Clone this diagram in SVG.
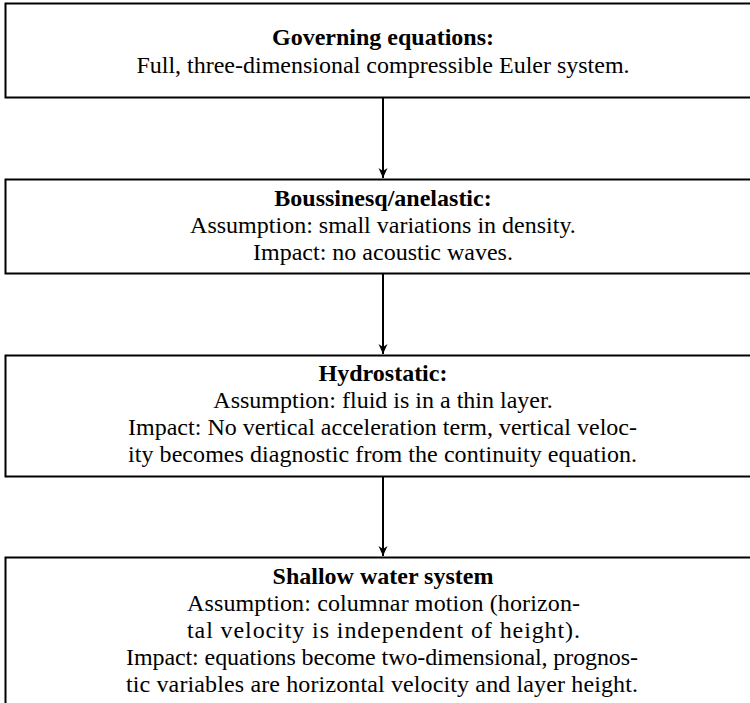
<svg xmlns="http://www.w3.org/2000/svg" width="750" height="703" viewBox="0 0 750 703">
<style>
.box{fill:#fff;stroke:#000;stroke-width:2}
text{font-family:"Liberation Serif","Times New Roman",serif;font-size:24px;fill:#000;text-anchor:middle}
.b{font-weight:bold}
.j{text-anchor:start}
.c{stroke:#000;stroke-width:2;fill:none}
</style>
<defs>
<marker id="ah" viewBox="0 0 10 10" refX="10" refY="5" markerWidth="6" markerHeight="5" orient="auto" markerUnits="strokeWidth">
<path d="M0,0.5 L10,5 L0,9.5 L3,5 Z" fill="#000"/>
</marker>
</defs>
<rect width="750" height="703" fill="#fff"/>
<g id="connectors">
<line class="c" x1="383" y1="98" x2="383" y2="178" marker-end="url(#ah)"/>
<line class="c" x1="383" y1="274" x2="383" y2="354" marker-end="url(#ah)"/>
<line class="c" x1="383" y1="477" x2="383" y2="556" marker-end="url(#ah)"/>
</g>
<g id="governing">
<rect class="box" x="5.5" y="3.5" width="756" height="94"/>
<text class="b" x="383" y="45">Governing equations:</text>
<text x="383" y="73">Full, three-dimensional compressible Euler system.</text>
</g>
<g id="boussinesq">
<rect class="box" x="5.5" y="179.5" width="756" height="94"/>
<text class="b" x="383" y="206">Boussinesq/anelastic:</text>
<text x="383" y="233">Assumption: small variations in density.</text>
<text x="383" y="260">Impact: no acoustic waves.</text>
</g>
<g id="hydrostatic">
<rect class="box" x="5.5" y="355.5" width="756" height="121"/>
<text class="b" x="383" y="381">Hydrostatic:</text>
<text x="383" y="408">Assumption: fluid is in a thin layer.</text>
<text class="j" x="128" y="435" textLength="509" lengthAdjust="spacing">Impact: No vertical acceleration term, vertical veloc-</text>
<text class="j" x="128" y="462" textLength="509" lengthAdjust="spacing">ity becomes diagnostic from the continuity equation.</text>
</g>
<g id="shallow">
<rect class="box" x="5.5" y="557.5" width="756" height="160"/>
<text class="b" x="383" y="584">Shallow water system</text>
<text class="j" x="187" y="611" textLength="393" lengthAdjust="spacing">Assumption: columnar motion (horizon-</text>
<text class="j" x="187" y="638" textLength="393" lengthAdjust="spacing">tal velocity is independent of height).</text>
<text class="j" x="126" y="665" textLength="512" lengthAdjust="spacing">Impact: equations become two-dimensional, prognos-</text>
<text class="j" x="126" y="692" textLength="512" lengthAdjust="spacing">tic variables are horizontal velocity and layer height.</text>
</g>
</svg>
